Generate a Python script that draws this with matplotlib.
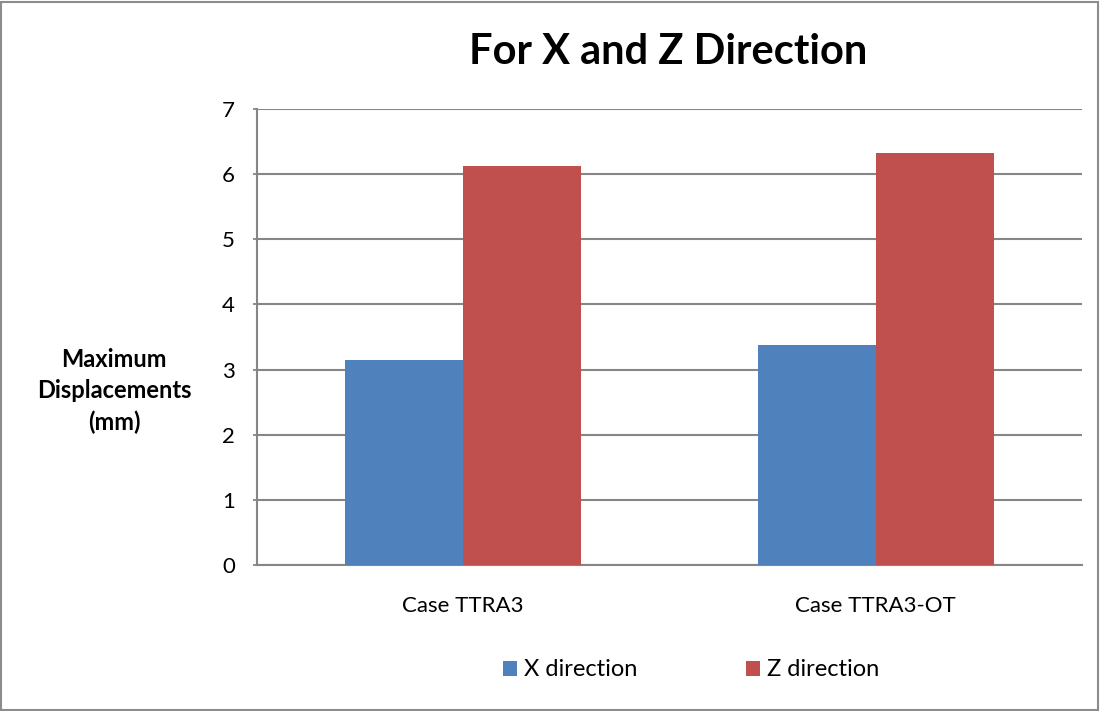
import matplotlib
matplotlib.use("Agg")
import matplotlib.pyplot as plt
import numpy as np
from matplotlib.patches import Rectangle

categories = ["Case TTRA3", "Case TTRA3-OT"]
x_direction = [3.14, 3.38]
z_direction = [6.12, 6.33]
series_names = ["X direction", "Z direction"]
y_ticks = [0, 1, 2, 3, 4, 5, 6, 7]

plt.rcParams['font.family'] = ['Lato', 'DejaVu Sans']

fig = plt.figure(figsize=(11.01, 7.11), dpi=100)
fig.patch.set_facecolor("white")
ax = fig.add_axes([257/1101, 1-565/711, (1082-257)/1101, (565-109)/711])

x = np.arange(len(categories))
w = 0.286
ax.bar(x - w/2, x_direction, w, color="#4F81BD", label=series_names[0], zorder=3)
ax.bar(x + w/2, z_direction, w, color="#C0504D", label=series_names[1], zorder=3)

ax.set_xlim(-0.5, 1.5)
ax.set_ylim(0, 7)
ax.yaxis.set_tick_params(length=3, width=1.3, color="#868686", pad=13)
ax.set_yticks(y_ticks)
ax.set_yticklabels([str(t) for t in y_ticks], fontsize=16)
ax.set_xticks(x)
ax.set_xticklabels(categories, fontsize=16)
ax.xaxis.set_tick_params(length=0, pad=22)
ax.yaxis.grid(True, color="#868686", linewidth=1.5, zorder=0)
ax.set_axisbelow(True)
for s in ["top", "right"]:
    ax.spines[s].set_visible(False)
for s in ["left", "bottom"]:
    ax.spines[s].set_color("#868686")
    ax.spines[s].set_linewidth(1.5)

fig.text(668/1101, 1-52/711, "For X and Z Direction", ha="center", va="center",
         fontsize=30, fontweight="bold")
fig.text(114/1101, 1-391/711, "Maximum\nDisplacements\n(mm)", ha="center", va="center",
         fontsize=17, fontweight="bold", linespacing=1.45)

leg = fig.legend(loc="center", bbox_to_anchor=(691/1101, 1-670/711), ncol=2, frameon=False,
                 fontsize=17, handlelength=0.6, handleheight=0.6, handletextpad=0.3,
                 columnspacing=4.6)

fig.patches.append(Rectangle((1/1101, 1/711), 1097/1101, 708/711, transform=fig.transFigure,
                             fill=False, edgecolor="#8C8C8C", linewidth=1.5))

fig.savefig("out.png", dpi=100)
